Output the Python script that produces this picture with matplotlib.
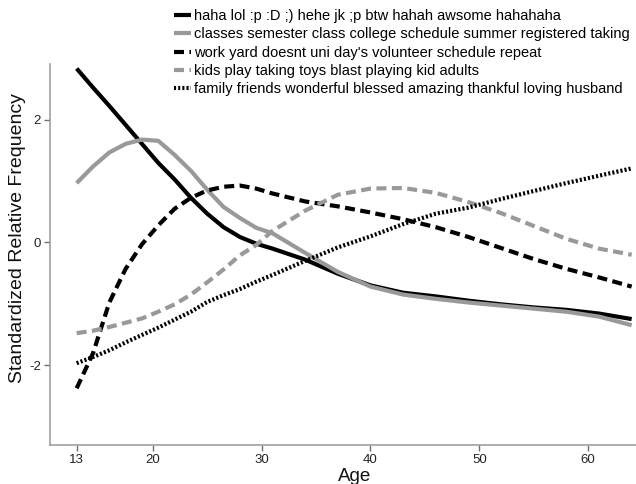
"""
Topic curves by age: standardized relative frequency of word clusters.
Output: out.png (636x484)
"""

import matplotlib
matplotlib.use("Agg")
import matplotlib.pyplot as plt

plt.rcParams["font.family"] = ["Liberation Sans", "DejaVu Sans"]
plt.rcParams["axes.unicode_minus"] = False

# ----------------------------------------------------------------------
# Data
# ----------------------------------------------------------------------
ages = [13, 14.5, 16, 17.5, 19, 20.5, 22, 23.5, 25, 26.5, 28, 29.5, 31,
        34, 37, 40, 43, 46, 49, 52, 55, 58, 61, 64]

haha = [2.84, 2.53, 2.23, 1.92, 1.61, 1.30, 1.03, 0.73, 0.47, 0.25, 0.09, -0.02,
        -0.10, -0.28, -0.51, -0.70, -0.82, -0.88, -0.95, -1.01, -1.06, -1.10,
        -1.16, -1.25]
classes = [0.97, 1.24, 1.47, 1.61, 1.68, 1.66, 1.43, 1.17, 0.86, 0.58, 0.40, 0.24,
           0.15, -0.17, -0.48, -0.72, -0.85, -0.92, -0.98, -1.03, -1.08, -1.13,
           -1.21, -1.35]
work = [-2.38, -1.81, -0.98, -0.43, -0.03, 0.28, 0.55, 0.73, 0.85, 0.91, 0.93, 0.88,
        0.80, 0.67, 0.59, 0.49, 0.38, 0.25, 0.09, -0.09, -0.27, -0.43, -0.57, -0.72]
kids = [-1.48, -1.44, -1.38, -1.31, -1.24, -1.13, -1.01, -0.85, -0.65, -0.44, -0.21,
        -0.04, 0.19, 0.52, 0.78, 0.88, 0.89, 0.81, 0.66, 0.48, 0.27, 0.06, -0.10, -0.20]
family = [-1.97, -1.87, -1.76, -1.63, -1.51, -1.39, -1.26, -1.13, -0.97, -0.86, -0.76,
          -0.64, -0.53, -0.30, -0.08, 0.10, 0.30, 0.47, 0.57, 0.71, 0.84, 0.97, 1.09, 1.21]

labels = [
    "haha lol :p :D ;) hehe jk ;p btw hahah awsome hahahaha",
    "classes semester class college schedule summer registered taking",
    "work yard doesnt uni day's volunteer schedule repeat",
    "kids play taking toys blast playing kid adults",
    "family friends wonderful blessed amazing thankful loving husband",
]

x_ticks = [13, 20, 30, 40, 50, 60]
y_ticks = [-2, 0, 2]
y_tick_labels = ["-2", "0", "2"]

# Styling
BLACK = "#000000"
GRAY = "#999999"
AXIS_GRAY = "#a0a0a0"
LW = 3.0

# ----------------------------------------------------------------------
# Plot
# ----------------------------------------------------------------------
fig = plt.figure(figsize=(6.36, 4.84), dpi=100)
ax = fig.add_axes([50 / 636, 1 - 445 / 484, 1 - 50 / 636, (445 - 64) / 484])

ax.plot(ages, haha, color=BLACK, lw=LW, solid_capstyle="butt", label=labels[0])
ax.plot(ages, classes, color=GRAY, lw=LW, solid_capstyle="butt", label=labels[1])
ax.plot(ages, work, color=BLACK, lw=LW, dashes=(2.4, 1.3),
        dash_capstyle="butt", label=labels[2])
ax.plot(ages, kids, color=GRAY, lw=LW, dashes=(2.4, 1.3),
        dash_capstyle="butt", label=labels[3])
ax.plot(ages, family, color=BLACK, lw=LW, dashes=(0.5, 0.5),
        dash_capstyle="butt", label=labels[4])

ax.set_xlim(10.55, 64.4)
ax.set_ylim(-3.306, 2.914)

ax.set_xticks(x_ticks)
ax.set_yticks(y_ticks)
ax.set_yticklabels(y_tick_labels)

for side in ("top", "right"):
    ax.spines[side].set_visible(False)
for side in ("left", "bottom"):
    ax.spines[side].set_color(AXIS_GRAY)
    ax.spines[side].set_linewidth(1.2)

ax.tick_params(axis="both", direction="out", length=4, width=1.0,
               color="#707070", labelsize=9.5, labelcolor="#222222", pad=2.5)

ax.set_xlabel("Age", fontsize=13.5, color="#111111")
ax.xaxis.label.set_va("baseline")
ax.xaxis.set_label_coords(0.519, -0.0935)

ax.set_ylabel("Standardized Relative Frequency", fontsize=14, color="#111111")
ax.yaxis.label.set_va("center")
ax.yaxis.set_label_coords(-0.0555, 0.543)

ax.legend(loc="upper left", bbox_to_anchor=(174 / 636, 1 - 9 / 484),
          bbox_transform=fig.transFigure, frameon=False, fontsize=10.5,
          handlelength=1.15, handletextpad=0.2, labelspacing=0.3,
          borderpad=0, borderaxespad=0)

fig.savefig("out.png", dpi=100, facecolor="white")
